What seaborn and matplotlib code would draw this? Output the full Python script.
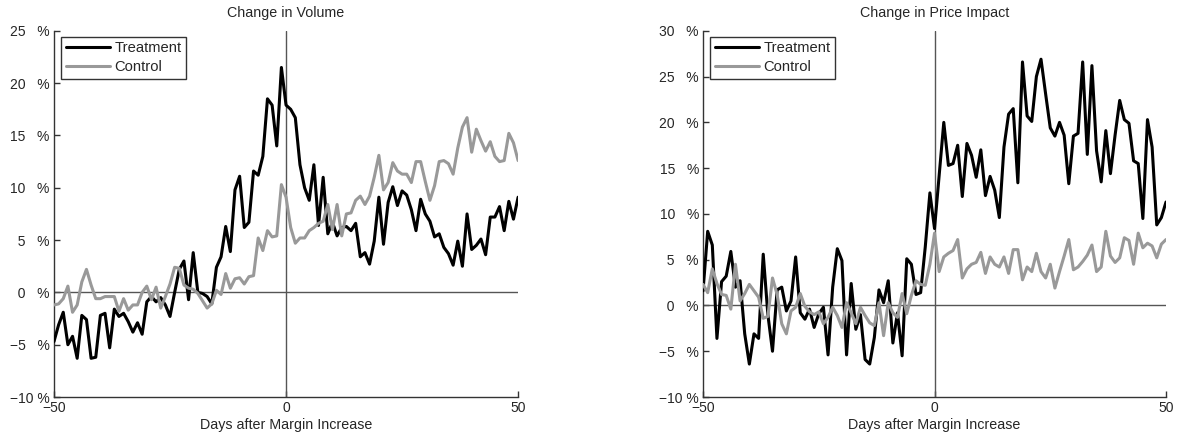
import numpy as np
import pandas as pd
import matplotlib
matplotlib.use('Agg')
import matplotlib.pyplot as plt
import seaborn as sns

# Dados (variacao em %, dias -50..50)
dias = np.arange(-50, 51)

volume_tratamento = [
    -4.7, -3.1, -1.9, -5.0, -4.2, -6.3, -2.2, -2.6, -6.3, -6.2,
    -2.2, -2.0, -5.3, -1.6, -2.3, -2.0, -2.8, -3.8, -2.9, -4.0,
    -0.9, -0.4, -0.9, -0.5, -1.2, -2.3, 0.0, 2.2, 3.0, -0.7,
    3.8, 0.0, -0.1, -0.4, -1.1, 2.4, 3.4, 6.3, 3.9, 9.8,
    11.1, 6.2, 6.7, 11.6, 11.2, 13.0, 18.5, 17.9, 14.0, 21.5,
    17.9, 17.5, 16.7, 12.2, 10.0, 8.8, 12.2, 6.4, 11.0, 5.6,
    6.7, 5.4, 6.2, 6.3, 5.9, 6.6, 3.4, 3.8, 2.7, 4.9,
    9.1, 4.6, 8.6, 10.1, 8.3, 9.7, 9.3, 7.9, 5.9, 8.9,
    7.5, 6.8, 5.3, 5.6, 4.3, 3.7, 2.6, 4.9, 2.5, 7.5,
    4.1, 4.5, 5.1, 3.6, 7.2, 7.2, 8.2, 5.9, 8.7, 7.0,
    9.1]

volume_controle = [
    -1.2, -1.1, -0.6, 0.6, -1.9, -1.2, 1.0, 2.2, 0.7, -0.6,
    -0.6, -0.4, -0.4, -0.4, -1.8, -0.6, -1.7, -1.2, -1.2, 0.0,
    0.6, -0.7, 0.5, -1.5, -0.4, 0.8, 2.4, 2.3, 0.7, 0.4,
    0.3, -0.1, -0.8, -1.5, -1.1, 0.2, -0.2, 1.8, 0.4, 1.3,
    1.4, 0.8, 1.5, 1.6, 5.2, 4.0, 5.9, 5.3, 5.4, 10.3,
    9.1, 6.2, 4.7, 5.2, 5.2, 5.9, 6.2, 6.6, 6.8, 8.4,
    6.0, 8.4, 5.4, 7.5, 7.6, 8.8, 9.2, 8.4, 9.2, 11.0,
    13.1, 9.8, 10.5, 12.4, 11.6, 11.3, 11.3, 10.5, 12.5, 12.5,
    10.6, 8.8, 10.2, 12.5, 12.6, 12.3, 11.3, 13.8, 15.8, 16.7,
    13.4, 15.6, 14.5, 13.5, 14.4, 13.0, 12.5, 12.6, 15.2, 14.3,
    12.6]

impacto_tratamento = [
    1.6, 8.1, 6.6, -3.6, 2.6, 3.2, 5.9, 2.0, 2.7, -3.1,
    -6.4, -3.1, -3.6, 5.6, -1.0, -5.0, 1.7, 2.0, -0.6, 0.5,
    5.3, -0.8, -1.5, -0.4, -2.4, -0.9, -0.2, -5.4, 2.0, 6.2,
    4.9, -5.4, 2.4, -2.6, -1.0, -5.9, -6.4, -3.5, 1.7, 0.3,
    2.7, -4.1, -0.8, -5.5, 5.1, 4.5, 1.2, 1.4, 6.4, 12.3,
    8.4, 14.2, 20.0, 15.3, 15.5, 17.5, 11.9, 17.7, 16.4, 14.0,
    17.0, 12.0, 14.1, 12.6, 9.6, 17.3, 20.9, 21.5, 13.4, 26.6,
    20.7, 20.1, 25.0, 26.9, 23.1, 19.4, 18.5, 20.0, 18.6, 13.3,
    18.5, 18.8, 26.6, 16.5, 26.2, 16.9, 13.5, 19.1, 14.4, 18.6,
    22.4, 20.3, 19.9, 15.8, 15.5, 9.5, 20.3, 17.3, 8.8, 9.6,
    11.3]

impacto_controle = [
    2.3, 1.4, 4.0, 2.4, 1.2, 1.1, -0.4, 4.5, 0.5, 1.3,
    2.3, 1.6, 0.9, -1.4, -1.2, 3.0, 1.2, -2.0, -3.1, -0.6,
    -0.2, 1.3, -0.1, -0.7, -1.0, -0.7, -2.0, -1.3, -0.2, -1.1,
    -2.4, 0.3, -0.8, -2.0, -0.2, -1.1, -1.9, -2.2, 0.3, -3.3,
    0.3, -0.8, -1.3, 1.3, -0.9, 1.1, 2.7, 2.3, 2.2, 4.5,
    7.9, 3.7, 5.3, 5.7, 6.0, 7.2, 3.0, 4.0, 4.5, 4.7,
    5.8, 3.5, 5.3, 4.5, 4.2, 5.3, 3.5, 6.1, 6.1, 2.8,
    4.2, 3.7, 5.7, 3.7, 3.0, 4.5, 1.9, 3.7, 5.4, 7.2,
    3.9, 4.2, 4.8, 5.5, 6.6, 3.7, 4.2, 8.1, 5.4, 4.7,
    5.2, 7.4, 7.1, 4.5, 7.9, 6.3, 6.8, 6.5, 5.2, 6.7,
    7.2]

titulos = ['Change in Volume', 'Change in Price Impact']
limites_y = [(-10, 25), (-10, 30)]


def rotulo_pct(v):
    # numero alinhado a direita, "%" numa coluna fixa
    s = str(v) if v >= 0 else '\u2212' + str(-v)
    if len(s) >= 3:
        return s + ' %'
    return s.rjust(2, '\u2007') + '\u2007 %'


sns.set_style('white')
plt.rcParams['font.family'] = ['Liberation Sans', 'DejaVu Sans']

fig = plt.figure(figsize=(11.81, 4.38), dpi=100)
eixos = [fig.add_axes([0.0457, 0.0936, 0.393, 0.836]),
         fig.add_axes([0.5953, 0.0936, 0.392, 0.836])]

dados = [(volume_tratamento, volume_controle),
         (impacto_tratamento, impacto_controle)]

for ax, (trat, ctrl), titulo, (ymin, ymax) in zip(eixos, dados, titulos, limites_y):
    df = pd.DataFrame({'Dia': np.concatenate([dias, dias]),
                       'Valor': np.concatenate([trat, ctrl]),
                       'Grupo': ['Treatment'] * len(dias) + ['Control'] * len(dias)})
    ax.axhline(0, color='#555555', lw=1, zorder=1)
    ax.axvline(0, color='#555555', lw=1, zorder=1)
    sns.lineplot(data=df, x='Dia', y='Valor', hue='Grupo',
                 palette={'Treatment': 'black', 'Control': '#999999'},
                 hue_order=['Treatment', 'Control'], linewidth=2.2, ax=ax, zorder=3)
    ax.set_xlim(-50, 50)
    ax.set_ylim(ymin, ymax)
    ax.set_xticks([-50, 0, 50])
    ax.set_xticklabels(['\u221250', '0', '50'])
    yt = np.arange(ymin, ymax + 1, 5)
    ax.set_yticks(yt)
    ax.set_yticklabels([rotulo_pct(v) for v in yt])
    ax.tick_params(direction='in', length=4, width=1, color='#333333',
                   labelsize=10, pad=3, left=True, bottom=True)
    ax.set_title(titulo, fontsize=10.3, pad=10)
    ax.set_xlabel('Days after Margin Increase', fontsize=10.3, labelpad=2)
    ax.set_ylabel('')
    for lado in ['top', 'right']:
        ax.spines[lado].set_visible(False)
    for lado in ['left', 'bottom']:
        ax.spines[lado].set_color('#333333')
        ax.spines[lado].set_linewidth(1)
    leg = ax.legend(loc='upper left', bbox_to_anchor=(0.015, 0.984), fontsize=10.6,
                    handlelength=3.0, frameon=True, fancybox=False,
                    borderpad=0.32, labelspacing=0.3, handletextpad=0.3,
                    borderaxespad=0)
    leg.get_frame().set_edgecolor('black')
    leg.get_frame().set_linewidth(1)

fig.savefig('out.png', dpi=100)
